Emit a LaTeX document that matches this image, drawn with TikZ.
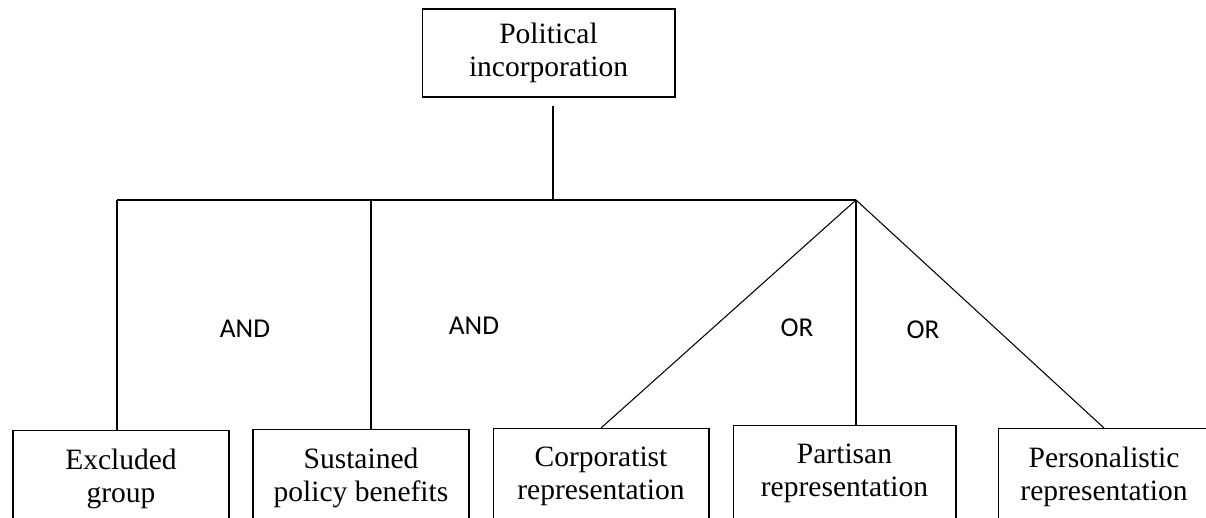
\documentclass[tikz,border=0pt]{standalone}
\usepackage{fontspec}
\setmainfont{Liberation Serif}
\newfontfamily\gatefont{Carlito}
\begin{document}
\begin{tikzpicture}[x=0.02cm, y=-0.02cm,
  box/.style={rectangle, draw, line width=0.6pt, align=center, inner sep=0pt,
    font=\fontsize{16.8}{18.7}\selectfont},
  leaf/.style={box, anchor=north, minimum height=1.92cm},
  gate/.style={font=\gatefont\fontsize{15.5}{18}\selectfont},
  link/.style={line width=0.6pt}]
  \useasboundingbox (0,0) rectangle (1206,517);
  \clip (0,0) rectangle (1206,517);
  % Nodes
  \node (political) [box, minimum width=5.06cm, minimum height=1.76cm] at (548.5, 53) {Political\\incorporation};
  \node (excluded) [leaf, minimum width=4.32cm] at (121, 430) {Excluded\\group};
  \node (sustained) [leaf, minimum width=4.32cm] at (361, 429) {Sustained\\policy benefits};
  \node (corporatist) [leaf, minimum width=4.32cm] at (601, 428) {Corporatist\\representation};
  \node (partisan) [leaf, minimum width=4.46cm] at (844.5, 425) {Partisan\\representation};
  \node (personalistic) [leaf, minimum width=4.24cm] at (1104, 428) {Personalistic\\representation};
  \node (and-left) [gate] at (245, 329) {AND};
  \node (and-right) [gate] at (474, 326) {AND};
  \node (or-left) [gate] at (797, 328) {OR};
  \node (or-right) [gate] at (923, 330) {OR};
  \coordinate (stem) at (553, 106);
  \coordinate (fork) at (553, 200);
  \coordinate (bar-end) at (117, 200);
  \coordinate (split) at (371, 200);
  \coordinate (apex) at (856, 200);
  % Lines
  \draw[link] (stem) -- (fork);
  \draw[link] (bar-end) -- (apex);
  \draw[link] (bar-end) -- (bar-end |- excluded.north);
  \draw[link] (split) -- (split |- sustained.north);
  \draw[link] (apex) -- (corporatist.north);
  \draw[link] (apex) -- (apex |- partisan.north);
  \draw[link] (apex) -- (personalistic.north);
\end{tikzpicture}
\end{document}
